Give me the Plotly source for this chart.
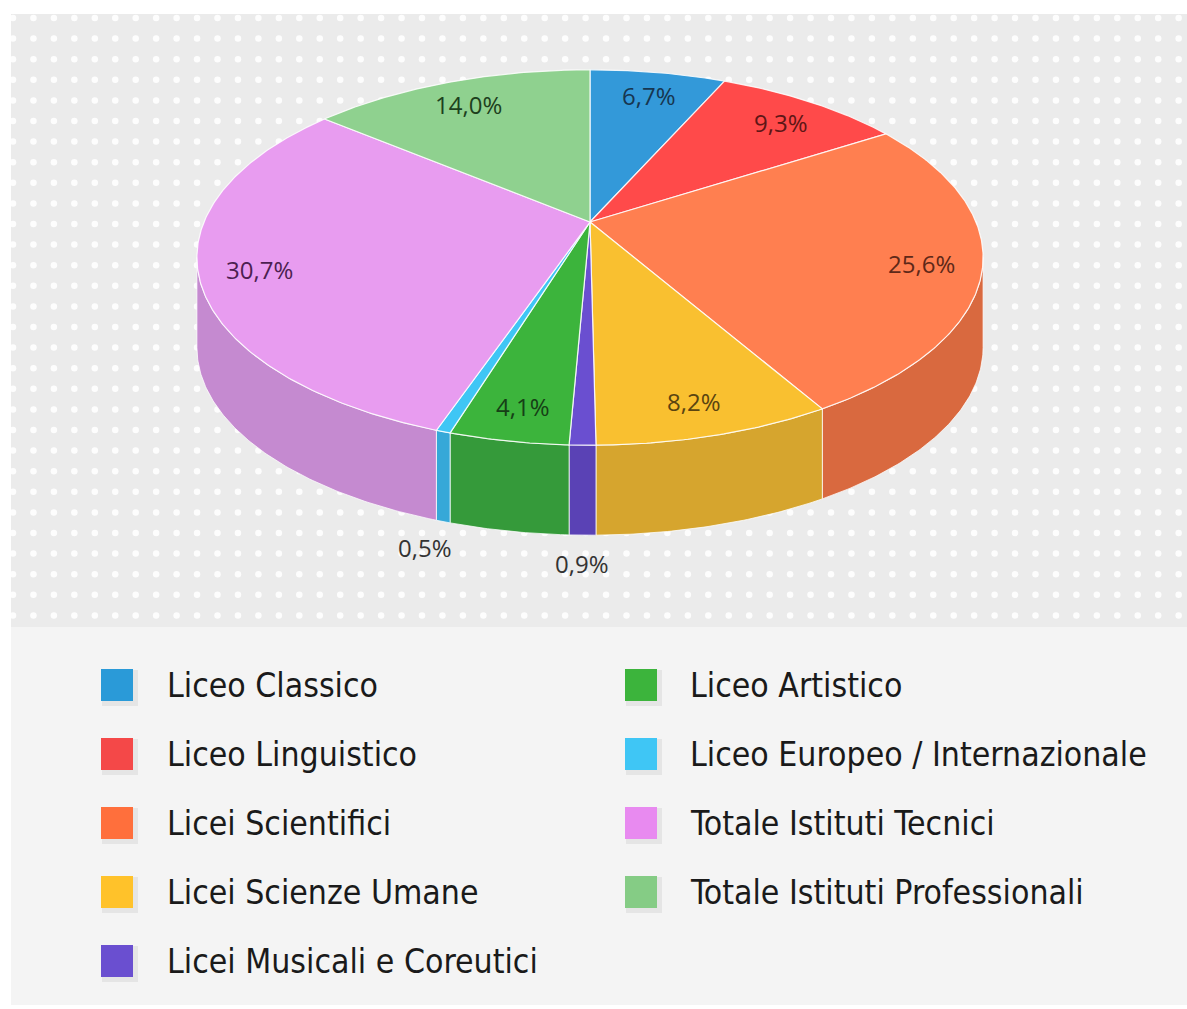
import numpy as np
import plotly.graph_objects as go

# ---------------- data ----------------
categories = [
    "Liceo Classico",
    "Liceo Linguistico",
    "Licei Scientifici",
    "Licei Scienze Umane",
    "Licei Musicali e Coreutici",
    "Liceo Artistico",
    "Liceo Europeo / Internazionale",
    "Totale Istituti Tecnici",
    "Totale Istituti Professionali",
]
shares = [6.7, 9.3, 25.6, 8.2, 0.9, 4.1, 0.5, 30.7, 14.0]
share_labels = ["6,7%", "9,3%", "25,6%", "8,2%", "0,9%", "4,1%", "0,5%", "30,7%", "14,0%"]

# ---------------- styles ----------------
top_colors = ["#3399d9", "#ff4a4a", "#ff7f50", "#f9c030", "#6a4fd0",
              "#3cb43c", "#3fc6f5", "#e89cf0", "#8fd18f"]
side_colors = ["#2c82b8", "#d63e3e", "#d9693f", "#d6a52e", "#5a42b5",
               "#359a3a", "#36a8d8", "#c58ad0", "#79b379"]
legend_colors = ["#2a9ad8", "#f44848", "#ff6f3c", "#ffc22a", "#6a4fd0",
                 "#3cb43c", "#3fc6f5", "#e88af0", "#85cc85"]
label_colors = ["#173650", "#5e1616", "#5e2818", "#5a4410", "#333333",
                "#163f16", "#333333", "#4c1f50", "#1d401d"]

W, H = 1187, 1009
CX, CY = 590.0, 222.0      # projected pie centre
A, B, K = 386.0, 181.0, 0.189   # horizontal / vertical radius, perspective
DEPTH = 90.0
SIL = np.degrees(np.arccos(-K))  # silhouette angle of the cylinder
LEGEND_FONT = "Liberation Sans Narrow, DejaVu Sans Condensed, Roboto, sans-serif"
LABEL_FONT = "Open Sans, Roboto, sans-serif"


def proj(r, theta_deg, z=0.0):
    t = np.radians(np.asarray(theta_deg, dtype=float))
    u = r * np.sin(t)
    v = -r * np.cos(t)
    w = 1.0 - K * v
    return CX + A * u / w, CY + B * v / w + z


total = float(sum(shares))
ends = np.cumsum(shares) / total * 360.0
starts = np.concatenate([[0.0], ends[:-1]])

fig = go.Figure()

# ---- decorative dotted background ----
dot_x = np.arange(13.0, W, 20.45)
dot_y = np.arange(18.0, 625.0, 20.6)
gx, gy = np.meshgrid(dot_x, dot_y)
fig.add_trace(go.Scatter(
    x=gx.ravel(), y=gy.ravel(), mode="markers",
    marker=dict(size=6.5, color="rgba(255,255,255,0.9)", line=dict(width=0)),
    hoverinfo="skip", showlegend=False))

# ---- side walls (front half only) ----
for i in range(len(shares)):
    lo = max(starts[i], SIL)
    hi = min(ends[i], 360.0 - SIL)
    if hi <= lo:
        continue
    th = np.linspace(lo, hi, max(4, int((hi - lo) * 2)))
    xt, yt = proj(1.0, th)
    xb, yb = proj(1.0, th[::-1], DEPTH)
    xs = np.concatenate([xt, xb, xt[:1]])
    ys = np.concatenate([yt, yb, yt[:1]])
    fig.add_trace(go.Scatter(
        x=xs, y=ys, mode="lines", fill="toself",
        fillcolor=side_colors[i],
        line=dict(color="rgba(255,255,255,0.75)", width=1),
        hoverinfo="skip", showlegend=False))

# ---- top faces ----
for i in range(len(shares)):
    th = np.linspace(starts[i], ends[i], max(4, int((ends[i] - starts[i]) * 2)))
    xa, ya = proj(1.0, th)
    xs = np.concatenate([[CX], xa, [CX]])
    ys = np.concatenate([[CY], ya, [CY]])
    fig.add_trace(go.Scatter(
        x=xs, y=ys, mode="lines", fill="toself",
        fillcolor=top_colors[i],
        line=dict(color="rgba(255,255,255,0.85)", width=1.2),
        hoverinfo="skip", showlegend=False))

# ---- data labels ----
for i in range(len(shares)):
    mid = (starts[i] + ends[i]) / 2.0
    if shares[i] < 2:
        lx, ly = proj(1.1, mid, DEPTH)
        col = "#333333"
        ys_ = 0
    else:
        lx, ly = proj(0.85, mid)
        col = label_colors[i]
        ys_ = -4
    fig.add_annotation(x=float(lx), y=float(ly), text=share_labels[i],
                       showarrow=False, xanchor="center", yanchor="middle",
                       yshift=ys_,
                       font=dict(family=LABEL_FONT, size=24, color=col))

# ---- legend (two columns) ----
col_square_x = [117, 641]
col_text_x = [165, 688]
row0, row_step, per_col = 685, 69, 5
sq_x, sq_y = [], []
for i, name in enumerate(categories):
    c, r = divmod(i, per_col)
    sq_x.append(col_square_x[c])
    sq_y.append(row0 + r * row_step)
    fig.add_annotation(x=col_text_x[c], y=row0 + r * row_step, text=name,
                       showarrow=False, xanchor="left", yanchor="middle",
                       font=dict(family=LEGEND_FONT, size=33.5, color="#1a1a1a"))

fig.add_trace(go.Scatter(
    x=[v + 3 for v in sq_x], y=[v + 3 for v in sq_y], mode="markers",
    marker=dict(symbol="square", size=36, color="rgba(0,0,0,0.06)", line=dict(width=0)),
    hoverinfo="skip", showlegend=False))
fig.add_trace(go.Scatter(
    x=sq_x, y=sq_y, mode="markers",
    marker=dict(symbol="square", size=32, color=legend_colors, line=dict(width=0)),
    hoverinfo="skip", showlegend=False))

# ---- backgrounds ----
fig.add_shape(type="rect", x0=11, x1=W, y0=14, y1=627, layer="below",
              fillcolor="#ebebeb", line=dict(width=0))
fig.add_shape(type="rect", x0=11, x1=W, y0=627, y1=1005, layer="below",
              fillcolor="#f4f4f4", line=dict(width=0))

fig.update_layout(
    width=W, height=H, margin=dict(l=0, r=0, t=0, b=0),
    paper_bgcolor="white", plot_bgcolor="white",
    xaxis=dict(range=[0, W], visible=False, fixedrange=True),
    yaxis=dict(range=[H, 0], visible=False, fixedrange=True),
    showlegend=False,
)

fig.write_html("out.html")
